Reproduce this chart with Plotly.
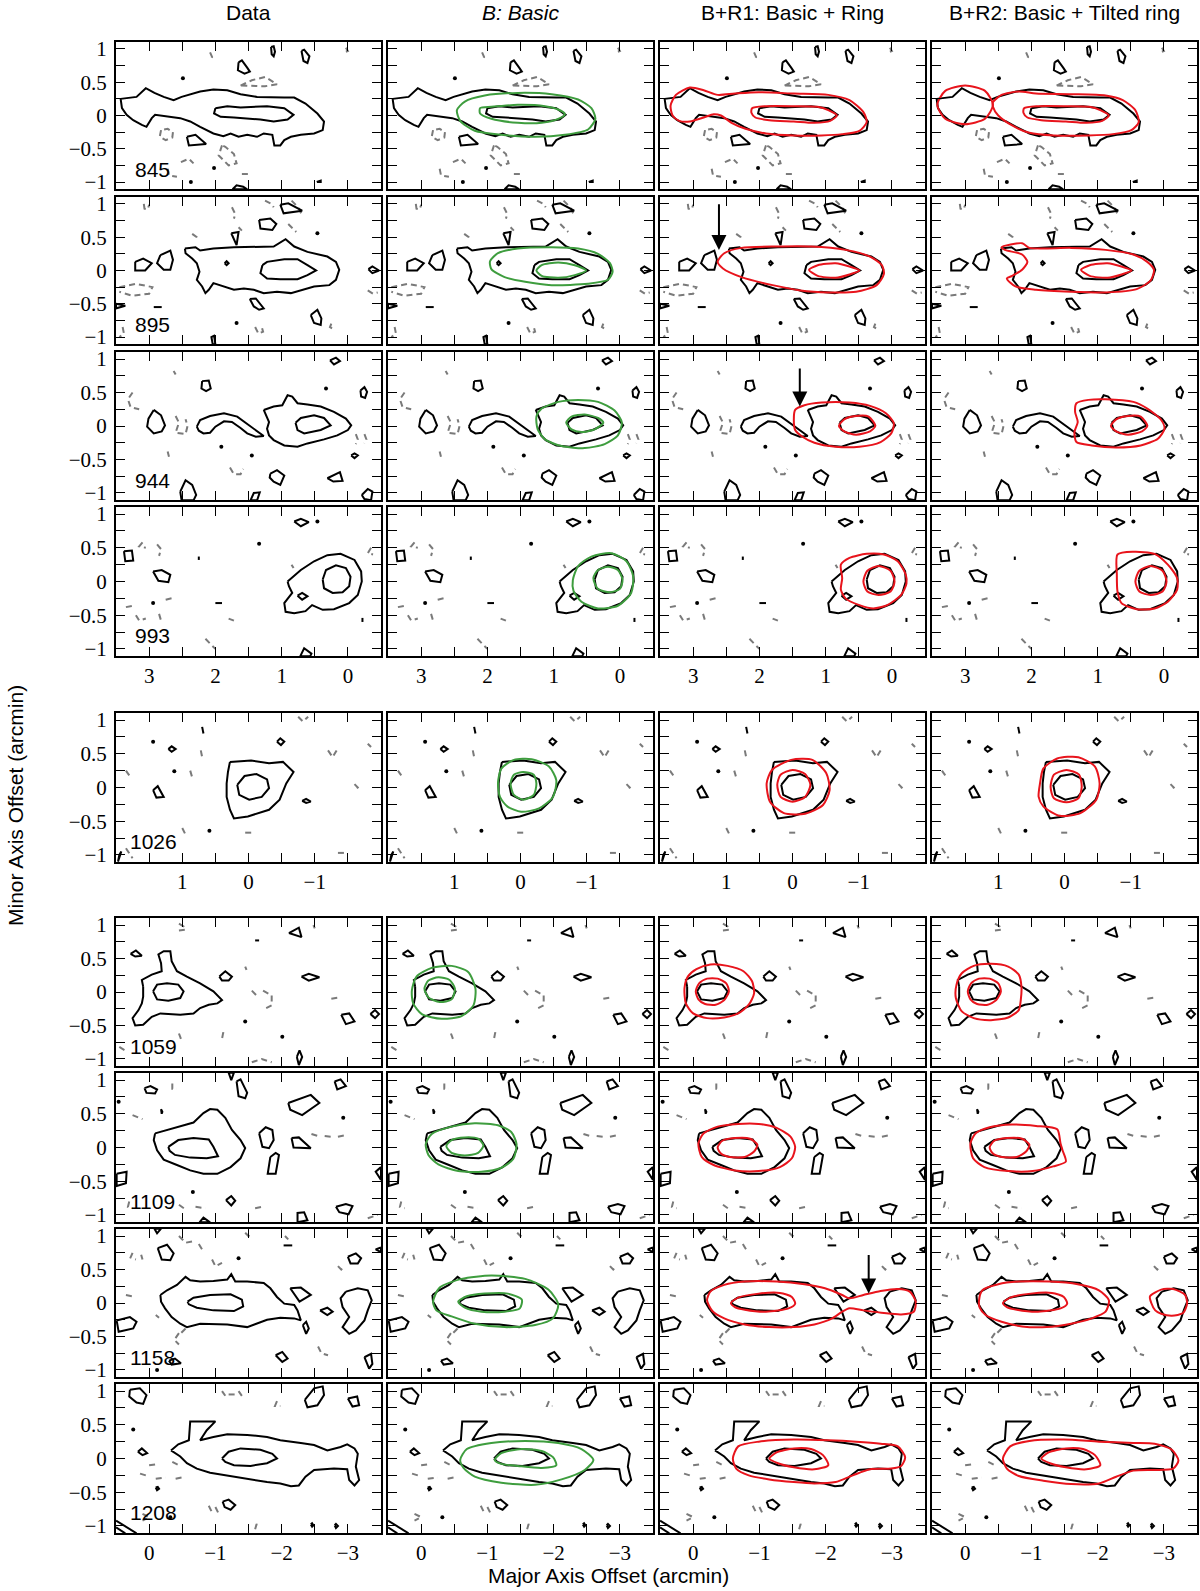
import plotly.graph_objects as go

# ------------------------------------------------------------------ DATA
CHANNELS = ["845", "895", "944", "993", "1026", "1059", "1109", "1158", "1208"]
COLUMN_TITLES = ["Data", "<i>B: Basic</i>", "B+R1: Basic + Ring", "B+R2: Basic + Tilted ring"]
X_TITLE = "Major Axis Offset (arcmin)"
Y_TITLE = "Minor Axis Offset (arcmin)"

# contour vertices in arcmin (major offset, minor offset)
DATA_845 = [
    [(3.43,0.25),(3.19,0.28),(3.05,0.41),(2.92,0.34),(2.78,0.28),(2.63,0.23),(2.51,0.28),(2.23,0.36),(2.03,0.39),(1.82,0.38),(1.62,0.32),(1.37,0.28),(0.96,0.27),(0.81,0.27),(0.64,0.18),(0.46,0.03),(0.36,-0.09),(0.38,-0.22),(0.51,-0.27),(0.71,-0.29),(0.86,-0.32),(0.96,-0.37),(1.02,-0.45),(1.11,-0.45),(1.14,-0.29),(1.27,-0.27),(1.37,-0.32),(1.52,-0.29),(1.65,-0.32),(1.77,-0.27),(1.88,-0.31),(2.03,-0.27),(2.23,-0.17),(2.38,-0.09),(2.53,-0.04),(2.66,-0.02),(2.91,0.01),(2.96,-0.04),(3.04,-0.17),(3.11,-0.14),(3.24,-0.07),(3.34,0.01),(3.41,0.11)],
    [(2.00,0.11),(1.82,0.14),(1.62,0.12),(1.42,0.13),(1.22,0.14),(0.96,0.11),(0.82,0.01),(0.91,-0.06),(1.12,-0.09),(1.32,-0.06),(1.52,-0.04),(1.72,-0.03),(1.92,-0.02),(2.02,0.03)],
    [(1.16,1.03),(1.12,1.04),(1.10,0.96),(1.12,0.89),(1.15,0.92)],
    [(0.70,0.97),(0.66,0.99),(0.58,0.89),(0.61,0.79),(0.67,0.82)],
    [(1.65,0.80),(1.60,0.83),(1.52,0.72),(1.48,0.66),(1.56,0.63),(1.66,0.68)],
    [(2.43,-0.32),(2.30,-0.29),(2.14,-0.43),(2.40,-0.45)],
    [(1.74,-1.11),(1.68,-1.05),(1.58,-1.07),(1.52,-1.11)],
    [(0.47,-1.0),(0.41,-1.0),(0.41,-0.98)],
]
NEG_845 = [
    [(2.08,0.95),(2.05,0.88),(2.08,0.82)],
    [(1.62,0.45),(1.45,0.53),(1.25,0.58),(1.07,0.47),(1.25,0.44),(1.45,0.45),(1.62,0.45)],
    [(2.82,-0.22),(2.84,-0.32),(2.75,-0.37),(2.65,-0.33),(2.64,-0.25),(2.72,-0.20),(2.82,-0.22)],
    [(1.90,-0.45),(1.95,-0.60),(1.80,-0.75),(1.68,-0.72),(1.72,-0.58),(1.85,-0.47),(1.90,-0.45)],
    [(2.52,-0.70),(2.40,-0.65),(2.33,-0.72)],
    [(2.72,-0.80),(2.70,-0.90),(2.58,-0.92)],
    [(1.60,-0.88),(1.45,-0.88)],
    [(0.03,1.02),(0.00,0.97),(0.05,0.95)],
]
DOTS_845 = [(2.49,0.56),(2.02,-0.79),(2.37,-1.0)]
GREEN_845 = [
    [(2.46,0.08),(2.34,0.21),(2.04,0.30),(1.54,0.34),(1.03,0.32),(0.63,0.24),(0.43,0.11),(0.37,-0.05),(0.48,-0.21),(0.83,-0.29),(1.28,-0.32),(1.79,-0.29),(2.19,-0.23),(2.41,-0.08)],
    [(2.11,0.11),(1.94,0.13),(1.54,0.16),(1.13,0.14),(0.93,0.09),(0.83,0.02),(0.93,-0.05),(1.18,-0.11),(1.54,-0.11),(1.94,-0.05),(2.11,0.03)],
]
R1_845 = [
    [(3.34,0.15),(3.26,0.31),(3.05,0.42),(2.84,0.38),(2.63,0.31),(2.37,0.33),(2.01,0.35),(1.48,0.33),(0.96,0.31),(0.64,0.23),(0.43,0.05),(0.38,-0.10),(0.49,-0.23),(0.75,-0.28),(1.06,-0.30),(1.48,-0.30),(1.90,-0.27),(2.21,-0.20),(2.42,-0.11),(2.58,0.0),(2.69,0.02),(2.84,-0.03),(3.05,-0.09),(3.21,-0.08),(3.31,0.0)],
    [(2.11,0.11),(1.90,0.14),(1.48,0.14),(1.12,0.13),(0.96,0.08),(0.83,0.0),(0.93,-0.08),(1.17,-0.11),(1.48,-0.09),(1.85,-0.07),(2.06,-0.03),(2.12,0.04)],
]
R2_845 = [
    [(3.42,0.16),(3.30,0.37),(3.00,0.45),(2.70,0.37),(2.58,0.16),(2.70,-0.05),(3.00,-0.13),(3.30,-0.05)],
    [(2.58,0.20),(2.45,0.31),(2.19,0.36),(1.93,0.33),(1.40,0.32),(0.88,0.30),(0.62,0.23),(0.43,0.08),(0.38,-0.10),(0.49,-0.22),(0.77,-0.28),(1.14,-0.30),(1.66,-0.30),(2.03,-0.26),(2.29,-0.15),(2.50,0.0),(2.58,0.13)],
    [(2.11,0.11),(1.90,0.14),(1.48,0.14),(1.12,0.13),(0.96,0.08),(0.83,0.0),(0.93,-0.08),(1.17,-0.11),(1.48,-0.09),(1.85,-0.07),(2.06,-0.03),(2.12,0.04)],
]

DATA_895 = [
    [(2.46,0.33),(2.30,0.35),(2.23,0.30),(2.03,0.33),(1.72,0.35),(1.42,0.36),(1.12,0.36),(0.94,0.47),(0.81,0.36),(0.61,0.28),(0.31,0.21),(0.18,0.13),(0.13,0.01),(0.18,-0.14),(0.28,-0.22),(0.51,-0.24),(0.71,-0.30),(0.86,-0.34),(1.07,-0.32),(1.27,-0.34),(1.42,-0.29),(1.57,-0.27),(1.72,-0.29),(1.87,-0.24),(2.03,-0.19),(2.10,-0.29),(2.15,-0.34),(2.20,-0.24),(2.28,-0.14),(2.24,-0.02),(2.28,0.11),(2.35,0.18),(2.45,0.26)],
    [(1.29,0.08),(1.22,0.13),(0.96,0.17),(0.76,0.17),(0.61,0.08),(0.48,0.0),(0.61,-0.07),(0.76,-0.13),(1.02,-0.13),(1.22,-0.12),(1.32,-0.04)],
    [(1.86,0.11),(1.83,0.14),(1.80,0.11),(1.83,0.08)],
    [(3.21,0.13),(3.09,0.18),(2.96,0.11),(3.06,0.0),(3.21,0.0)],
    [(2.83,0.23),(2.68,0.30),(2.64,0.16),(2.68,0.01),(2.78,0.01),(2.88,0.11)],
    [(1.34,0.76),(1.17,0.78),(1.08,0.70),(1.14,0.61),(1.32,0.63)],
    [(1.02,0.99),(0.90,1.01),(0.69,0.90),(0.97,0.86)],
    [(1.76,0.56),(1.65,0.58),(1.68,0.38)],
    [(1.48,-0.43),(1.39,-0.42),(1.27,-0.57),(1.34,-0.59),(1.42,-0.54)],
    [(0.56,-0.67),(0.46,-0.59),(0.40,-0.72),(0.41,-0.82),(0.51,-0.79)],
    [(-0.31,0.02),(-0.37,0.06),(-0.47,0.0),(-0.37,-0.04)],
    [(3.50,-0.50),(3.36,-0.53),(3.50,-0.57)],
    [(2.93,-0.55),(2.81,-0.55)],
    [(2.04,-1.11),(2.06,-1.0),(2.02,-0.98),(2.00,-1.11)],
]
NEG_895 = [
    [(3.08,1.00),(3.07,0.93),(3.02,0.92),(3.00,0.99)],
    [(2.35,0.55),(2.28,0.50),(2.25,0.45)],
    [(1.75,0.95),(1.70,0.85),(1.72,0.78)],
    [(1.65,0.65),(1.60,0.60)],
    [(1.25,1.05),(1.15,1.00),(1.12,0.95)],
    [(0.85,1.05),(0.75,0.95),(0.70,0.85)],
    [(0.90,0.70),(0.82,0.62),(0.78,0.58)],
    [(3.45,-0.25),(3.20,-0.20),(2.95,-0.25),(3.00,-0.35),(3.25,-0.38),(3.45,-0.32)],
    [(0.25,-0.80),(0.27,-0.85),(0.22,-0.88)],
    [(1.40,-0.85),(1.35,-0.95),(1.28,-0.92),(1.30,-0.85)],
    [(-0.30,-0.30),(-0.38,-0.35),(-0.45,-0.33)],
    [(3.40,-0.85),(3.38,-0.95),(3.45,-1.00)],
]
DOTS_895 = [(1.68,-0.79),(0.46,0.56)]
GREEN_895 = [
    [(1.96,0.14),(1.84,0.26),(1.54,0.33),(1.03,0.35),(0.63,0.33),(0.33,0.25),(0.15,0.11),(0.11,-0.02),(0.18,-0.14),(0.48,-0.20),(1.03,-0.22),(1.43,-0.17),(1.74,-0.10),(1.94,0.02)],
    [(1.26,0.0),(1.18,0.08),(0.93,0.12),(0.68,0.08),(0.51,0.0),(0.68,-0.07),(0.93,-0.11),(1.18,-0.08)],
]
R1_895 = [
    [(2.63,0.13),(2.53,0.26),(2.27,0.34),(1.74,0.36),(1.22,0.36),(0.70,0.31),(0.33,0.21),(0.15,0.08),(0.12,-0.05),(0.23,-0.22),(0.54,-0.32),(0.96,-0.33),(1.38,-0.30),(1.80,-0.22),(2.27,-0.10),(2.55,0.03)],
    [(1.25,0.01),(1.12,0.08),(0.85,0.11),(0.64,0.06),(0.49,0.0),(0.64,-0.06),(0.85,-0.11),(1.12,-0.08)],
]
R2_895 = [
    [(2.45,0.35),(2.14,0.41),(2.03,0.34),(1.40,0.34),(0.88,0.31),(0.46,0.24),(0.25,0.13),(0.15,0.01),(0.20,-0.15),(0.41,-0.28),(0.88,-0.33),(1.40,-0.32),(1.93,-0.29),(2.24,-0.24),(2.37,-0.12),(2.29,-0.08),(2.14,0.01),(2.06,0.13),(2.14,0.24),(2.40,0.31)],
    [(1.25,0.01),(1.12,0.08),(0.85,0.11),(0.64,0.06),(0.49,0.0),(0.64,-0.06),(0.85,-0.11),(1.12,-0.08)],
]

DATA_944 = [
    [(1.27,0.24),(1.12,0.29),(0.99,0.31),(0.91,0.46),(0.84,0.44),(0.76,0.34),(0.61,0.32),(0.41,0.29),(0.21,0.21),(0.03,0.11),(-0.05,0.01),(0.0,-0.06),(0.16,-0.14),(0.36,-0.20),(0.61,-0.26),(0.76,-0.31),(0.96,-0.29),(1.12,-0.21),(1.19,-0.14),(1.22,-0.04),(1.19,0.06),(1.24,0.16)],
    [(0.79,0.05),(0.71,0.12),(0.51,0.16),(0.36,0.12),(0.26,0.01),(0.41,-0.06),(0.66,-0.11),(0.76,-0.06)],
    [(2.28,-0.01),(2.23,0.09),(2.08,0.15),(1.87,0.19),(1.67,0.14),(1.47,-0.01),(1.32,-0.12),(1.27,-0.15),(1.39,-0.16),(1.52,-0.11),(1.62,-0.03),(1.75,0.06),(1.87,0.07),(2.00,-0.01),(2.08,-0.10),(2.18,-0.11),(2.25,-0.07)],
    [(2.93,0.24),(2.82,0.16),(2.76,0.01),(2.81,-0.08),(2.93,-0.11),(3.03,-0.01),(3.01,0.11)],
    [(2.20,0.67),(2.10,0.68),(2.07,0.56),(2.14,0.52),(2.21,0.56)],
    [(0.27,0.98),(0.18,1.02),(0.12,0.97),(0.21,0.92)],
    [(-0.19,0.53),(-0.25,0.58),(-0.29,0.51),(-0.26,0.42),(-0.20,0.44)],
    [(-0.05,-0.44),(-0.10,-0.41),(-0.15,-0.44),(-0.10,-0.48)],
    [(1.17,-0.71),(1.07,-0.66),(0.96,-0.74),(1.02,-0.88),(1.12,-0.83),(1.18,-0.77)],
    [(0.31,-0.78),(0.12,-0.69),(0.08,-0.82),(0.22,-0.83)],
    [(2.53,-0.98),(2.45,-0.81),(2.35,-0.88),(2.29,-1.03),(2.33,-1.11),(2.51,-1.11)],
    [(1.47,-1.11),(1.42,-1.00),(1.33,-0.99),(1.37,-1.11)],
    [(-0.21,-1.03),(-0.30,-0.94),(-0.37,-0.98),(-0.35,-1.11),(-0.25,-1.09)],
]
NEG_944 = [
    [(3.25,0.50),(3.32,0.40),(3.28,0.28),(3.15,0.25)],
    [(2.60,0.15),(2.55,0.05),(2.60,-0.10),(2.45,-0.12),(2.42,0.0),(2.45,0.10)],
    [(2.63,0.82),(2.60,0.77)],
    [(2.72,-0.38),(2.70,-0.46)],
    [(1.78,-0.62),(1.72,-0.72),(1.62,-0.72),(1.58,-0.64)],
    [(-0.12,-0.12),(-0.15,-0.20),(-0.12,-0.27)],
    [(-0.25,-0.12),(-0.28,-0.20),(-0.25,-0.26)],
]
DOTS_944 = [(1.91,-0.31),(1.45,-0.44),(0.33,0.56)]
GREEN_944 = [
    [(1.26,0.14),(1.18,0.26),(0.93,0.36),(0.63,0.39),(0.33,0.36),(0.08,0.23),(-0.03,0.05),(0.03,-0.14),(0.23,-0.27),(0.53,-0.33),(0.88,-0.30),(1.13,-0.20),(1.24,-0.05)],
    [(0.81,0.05),(0.73,0.14),(0.53,0.17),(0.33,0.12),(0.25,0.05),(0.38,-0.05),(0.58,-0.09),(0.73,-0.05)],
]
R1_944 = [
    [(1.46,0.24),(1.32,0.31),(1.06,0.35),(0.64,0.35),(0.33,0.30),(0.09,0.19),(-0.03,0.04),(0.01,-0.11),(0.17,-0.24),(0.49,-0.31),(0.85,-0.31),(1.17,-0.25),(1.35,-0.16),(1.46,-0.06),(1.48,0.09)],
    [(0.80,0.0),(0.72,0.10),(0.54,0.15),(0.35,0.14),(0.25,0.0),(0.33,-0.08),(0.54,-0.13),(0.72,-0.08)],
]
R2_944 = [
    [(1.32,0.34),(1.14,0.39),(0.88,0.40),(0.46,0.36),(0.25,0.26),(0.04,0.09),(-0.01,-0.04),(0.09,-0.19),(0.35,-0.29),(0.72,-0.32),(1.09,-0.29),(1.32,-0.24),(1.35,-0.09),(1.30,0.06),(1.34,0.21)],
    [(0.80,0.0),(0.72,0.10),(0.54,0.15),(0.35,0.14),(0.25,0.0),(0.33,-0.08),(0.54,-0.13),(0.72,-0.08)],
]

DATA_993 = [
    [(0.91,0.0),(0.71,0.17),(0.51,0.30),(0.31,0.39),(0.11,0.41),(-0.10,0.32),(-0.20,0.15),(-0.21,0.0),(-0.15,-0.20),(-0.02,-0.32),(0.21,-0.41),(0.38,-0.42),(0.54,-0.35),(0.64,-0.44),(0.81,-0.47),(0.94,-0.45),(0.96,-0.32),(0.91,-0.25),(0.84,-0.17),(0.89,-0.07)],
    [(0.38,0.03),(0.33,0.17),(0.18,0.24),(0.03,0.20),(-0.04,0.07),(-0.02,-0.07),(0.08,-0.16),(0.23,-0.17),(0.36,-0.10)],
    [(0.76,-0.21),(0.69,-0.17),(0.61,-0.22),(0.69,-0.27)],
    [(3.38,0.45),(3.26,0.46),(3.24,0.31),(3.36,0.30)],
    [(2.94,0.15),(2.81,0.17),(2.68,0.10),(2.71,-0.01),(2.86,0.01)],
    [(0.81,0.89),(0.71,0.93),(0.59,0.88),(0.71,0.82)],
    [(0.72,-1.11),(0.66,-0.99),(0.55,-1.07),(0.57,-1.11)],
    [(2.00,-0.32),(1.90,-0.32)],
    [(2.25,0.37),(2.25,0.32)],
    [(-0.22,-0.54),(-0.22,-0.60)],
]
NEG_993 = [
    [(3.10,0.58),(3.15,0.52),(3.05,0.50)],
    [(2.88,0.55),(2.82,0.48),(2.85,0.38)],
    [(2.75,-0.27),(2.62,-0.24)],
    [(3.35,-0.38),(3.25,-0.36)],
    [(3.20,-0.50),(3.15,-0.58),(3.05,-0.55)],
    [(2.85,-0.48),(2.82,-0.58)],
    [(2.15,-0.85),(2.05,-0.95),(2.00,-1.00)],
    [(1.80,-0.55),(1.72,-0.58)],
    [(0.85,0.25),(0.82,0.20)],
    [(-0.35,0.50),(-0.30,0.42),(-0.38,0.40)],
]
DOTS_993 = [(2.94,-0.32),(1.34,0.56),(0.46,0.89)]
GREEN_993 = [
    [(0.71,0.02),(0.63,0.23),(0.43,0.37),(0.13,0.42),(-0.10,0.30),(-0.20,0.08),(-0.17,-0.17),(0.03,-0.36),(0.33,-0.40),(0.58,-0.30),(0.70,-0.14)],
    [(0.40,0.05),(0.33,0.17),(0.18,0.22),(0.03,0.17),(-0.04,0.03),(0.0,-0.11),(0.15,-0.16),(0.33,-0.11)],
]
R1_993 = [
    [(0.77,0.25),(0.64,0.35),(0.38,0.41),(0.12,0.40),(-0.09,0.30),(-0.21,0.10),(-0.22,-0.03),(-0.14,-0.20),(0.07,-0.35),(0.28,-0.40),(0.49,-0.35),(0.70,-0.25),(0.77,-0.12),(0.75,0.05)],
    [(0.43,0.0),(0.37,0.16),(0.20,0.23),(0.02,0.16),(-0.04,0.0),(0.02,-0.15),(0.20,-0.20),(0.37,-0.15)],
]
R2_993 = [
    [(0.70,0.40),(0.46,0.44),(0.14,0.41),(-0.06,0.25),(-0.20,0.05),(-0.20,-0.12),(-0.06,-0.30),(0.14,-0.40),(0.41,-0.41),(0.64,-0.32),(0.70,-0.15),(0.71,0.10)],
    [(0.43,0.0),(0.37,0.16),(0.20,0.23),(0.02,0.16),(-0.04,0.0),(0.02,-0.15),(0.20,-0.20),(0.37,-0.15)],
]

DATA_1026 = [
    [(0.28,0.38),(-0.04,0.40),(-0.31,0.36),(-0.52,0.38),(-0.68,0.23),(-0.57,0.06),(-0.47,-0.18),(-0.31,-0.33),(0.01,-0.43),(0.22,-0.46),(0.28,-0.33),(0.33,-0.14),(0.33,0.06),(0.31,0.23)],
    [(0.17,0.04),(0.06,0.17),(-0.12,0.20),(-0.28,0.12),(-0.31,-0.01),(-0.20,-0.14),(-0.01,-0.18),(0.14,-0.11)],
    [(1.44,-0.04),(1.37,0.02),(1.28,-0.14),(1.39,-0.15)],
    [(1.21,0.57),(1.16,0.61),(1.10,0.57),(1.16,0.53)],
    [(-0.43,0.68),(-0.48,0.73),(-0.54,0.68),(-0.49,0.63)],
    [(0.70,0.90),(0.68,0.80)],
    [(-0.81,-0.20),(-0.87,-0.17),(-0.94,-0.21),(-0.87,-0.23)],
    [(1.97,-1.10),(1.95,-1.00),(1.92,-0.95)],
]
NEG_1026 = [
    [(-1.20,0.55),(-1.27,0.45),(-1.33,0.55)],
    [(-0.75,1.05),(-0.82,0.98),(-0.90,1.05)],
    [(-1.60,0.05),(-1.65,0.0),(-1.60,-0.05)],
    [(-1.80,0.65),(-1.85,0.60)],
    [(1.85,0.25),(1.80,0.18)],
    [(0.88,0.25),(0.85,0.15)],
    [(0.72,0.55),(0.70,0.45)],
    [(1.00,-0.60),(0.95,-0.70)],
    [(0.05,-0.67),(-0.05,-0.67)],
    [(-1.35,-0.97),(-1.50,-0.97)],
    [(1.85,-0.90),(1.78,-1.00),(1.75,-1.05)],
]
DOTS_1026 = [(1.44,0.68),(1.12,0.24),(0.59,-0.64)]
GREEN_1026 = [
    [(0.29,0.28),(0.10,0.41),(-0.17,0.42),(-0.43,0.31),(-0.54,0.11),(-0.49,-0.14),(-0.28,-0.31),(-0.01,-0.36),(0.20,-0.28),(0.31,-0.14),(0.34,0.06)],
    [(0.15,0.06),(0.10,0.19),(-0.04,0.23),(-0.20,0.19),(-0.24,0.06),(-0.20,-0.11),(-0.04,-0.18),(0.10,-0.11)],
]
R1_1026 = [
    [(0.39,0.06),(0.31,0.26),(0.02,0.41),(-0.30,0.41),(-0.51,0.21),(-0.56,-0.04),(-0.46,-0.26),(-0.19,-0.39),(0.13,-0.38),(0.34,-0.21)],
    [(0.23,0.04),(0.18,0.19),(0.0,0.26),(-0.19,0.20),(-0.27,0.04),(-0.19,-0.14),(0.0,-0.21),(0.18,-0.14)],
]
R2_1026 = [
    [(0.37,0.06),(0.32,0.28),(0.11,0.43),(-0.21,0.45),(-0.46,0.31),(-0.53,0.06),(-0.48,-0.18),(-0.24,-0.38),(0.07,-0.42),(0.32,-0.28),(0.39,-0.14)],
    [(0.21,0.01),(0.16,0.19),(-0.03,0.26),(-0.22,0.19),(-0.26,0.01),(-0.21,-0.16),(-0.03,-0.22),(0.16,-0.16)],
]

DATA_1059 = [
    [(0.09,0.08),(0.11,0.18),(-0.04,0.26),(-0.19,0.31),(-0.18,0.43),(-0.14,0.56),(-0.22,0.61),(-0.32,0.61),(-0.34,0.46),(-0.42,0.31),(-0.57,0.23),(-0.77,0.13),(-0.97,0.01),(-1.10,-0.12),(-1.03,-0.17),(-0.90,-0.19),(-0.77,-0.24),(-0.67,-0.32),(-0.47,-0.34),(-0.17,-0.32),(-0.04,-0.37),(0.09,-0.49),(0.21,-0.50),(0.25,-0.39),(0.16,-0.27),(0.11,-0.17),(0.09,-0.07)],
    [(-0.06,0.01),(-0.12,0.11),(-0.27,0.13),(-0.44,0.11),(-0.52,0.01),(-0.47,-0.09),(-0.29,-0.13),(-0.12,-0.11)],
    [(0.28,0.57),(0.20,0.62),(0.11,0.54),(0.21,0.53)],
    [(-1.06,0.23),(-1.15,0.31),(-1.25,0.23),(-1.20,0.17),(-1.10,0.17)],
    [(-2.11,0.88),(-2.26,0.96),(-2.30,0.82)],
    [(-2.30,0.23),(-2.41,0.27),(-2.57,0.22),(-2.41,0.17)],
    [(-2.90,-0.34),(-3.02,-0.32),(-3.10,-0.44),(-2.97,-0.48)],
    [(-3.34,-0.33),(-3.41,-0.27),(-3.47,-0.33),(-3.41,-0.39)],
    [(-2.23,-0.97),(-2.27,-0.87),(-2.31,-0.97),(-2.26,-1.09)],
    [(-1.60,0.77),(-1.66,0.77)],
]
NEG_1059 = [
    [(-0.45,1.02),(-0.52,0.98),(-0.55,0.93),(-0.45,0.92)],
    [(-1.72,0.02),(-1.85,-0.05),(-1.85,-0.20),(-1.75,-0.25)],
    [(-1.55,0.02),(-1.62,-0.05)],
    [(-2.75,-0.10),(-2.87,-0.08)],
    [(-2.48,1.00),(-2.50,0.95)],
    [(-1.12,-0.60),(-1.10,-0.70)],
    [(-0.45,-0.62),(-0.48,-0.70)],
    [(0.45,-0.82),(0.35,-0.88)],
    [(-1.55,-1.05),(-1.70,-1.00),(-1.85,-1.05)],
    [(-1.45,0.38),(-1.47,0.33)],
]
DOTS_1059 = [(-1.45,-0.44),(-2.01,-0.67)]
GREEN_1059 = [
    [(0.14,0.02),(0.07,0.23),(-0.16,0.36),(-0.46,0.39),(-0.71,0.30),(-0.82,0.05),(-0.79,-0.20),(-0.61,-0.36),(-0.31,-0.40),(-0.01,-0.33),(0.12,-0.17)],
    [(-0.05,0.05),(-0.11,0.17),(-0.26,0.22),(-0.43,0.18),(-0.51,0.05),(-0.46,-0.11),(-0.28,-0.15),(-0.11,-0.08)],
]
R1_1059 = [
    [(0.13,0.06),(0.08,0.23),(-0.05,0.34),(-0.26,0.41),(-0.52,0.39),(-0.76,0.31),(-0.89,0.16),(-0.92,-0.02),(-0.84,-0.19),(-0.68,-0.32),(-0.47,-0.38),(-0.21,-0.39),(0.0,-0.32),(0.11,-0.17)],
    [(-0.04,0.01),(-0.09,0.13),(-0.21,0.20),(-0.37,0.20),(-0.50,0.13),(-0.54,0.01),(-0.47,-0.12),(-0.34,-0.19),(-0.18,-0.18),(-0.08,-0.11)],
]
R2_1059 = [
    [(0.13,0.11),(0.05,0.28),(-0.13,0.39),(-0.39,0.42),(-0.65,0.38),(-0.81,0.26),(-0.85,0.08),(-0.84,-0.12),(-0.81,-0.27),(-0.65,-0.38),(-0.39,-0.42),(-0.13,-0.39),(0.05,-0.29),(0.14,-0.09)],
    [(-0.04,0.01),(-0.09,0.13),(-0.21,0.20),(-0.37,0.20),(-0.50,0.13),(-0.54,0.01),(-0.47,-0.12),(-0.34,-0.19),(-0.18,-0.18),(-0.08,-0.11)],
]

DATA_1109 = [
    [(-0.09,0.21),(-0.27,0.26),(-0.47,0.31),(-0.67,0.37),(-0.82,0.51),(-0.92,0.57),(-1.03,0.56),(-1.15,0.44),(-1.25,0.26),(-1.38,0.11),(-1.45,-0.01),(-1.38,-0.16),(-1.23,-0.29),(-1.03,-0.39),(-0.82,-0.39),(-0.62,-0.34),(-0.42,-0.26),(-0.22,-0.18),(-0.12,-0.04),(-0.07,0.11)],
    [(-0.29,0.01),(-0.44,0.11),(-0.67,0.14),(-0.90,0.12),(-0.97,0.01),(-1.04,-0.13),(-0.87,-0.16),(-0.62,-0.15),(-0.39,-0.11),(-0.31,-0.05)],
    [(0.07,0.88),(-0.02,0.91),(-0.12,0.86),(-0.09,0.80),(0.04,0.81)],
    [(-1.32,0.98),(-1.38,1.01),(-1.48,0.81),(-1.45,0.73),(-1.35,0.76)],
    [(-2.10,0.66),(-2.44,0.78),(-2.57,0.66),(-2.31,0.48),(-2.13,0.56)],
    [(-1.66,0.21),(-1.76,0.30),(-1.86,0.26),(-1.88,0.11),(-1.81,-0.01),(-1.71,0.01)],
    [(-2.15,0.14),(-2.26,0.15),(-2.44,-0.01),(-2.18,0.0)],
    [(-1.83,-0.14),(-1.91,-0.08),(-1.96,-0.11),(-1.91,-0.39),(-1.79,-0.39)],
    [(-2.80,0.98),(-2.89,1.01),(-2.97,0.91),(-2.84,0.86)],
    [(-1.16,-0.78),(-1.24,-0.72),(-1.30,-0.79),(-1.24,-0.86)],
    [(-2.82,-0.88),(-2.97,-0.84),(-3.07,-0.87),(-3.01,-0.99),(-2.87,-0.96)],
    [(-2.24,-1.11),(-2.24,-0.97),(-2.34,-0.96),(-2.39,-1.08)],
    [(-0.76,-1.11),(-0.82,-1.04),(-0.92,-1.11)],
    [(-1.20,1.11),(-1.24,1.00),(-1.28,1.11)],
    [(0.49,-0.39),(0.34,-0.36),(0.35,-0.53),(0.49,-0.57)],
    [(-3.50,-0.29),(-3.42,-0.36),(-3.50,-0.48)],
    [(-0.18,0.57),(-0.20,0.53),(-0.19,0.50)],
]
NEG_1109 = [
    [(-0.35,0.95),(-0.35,0.87),(-0.42,0.87)],
    [(0.25,0.48),(0.18,0.45),(0.10,0.42)],
    [(-2.45,0.20),(-2.55,0.17)],
    [(-2.65,0.17),(-2.75,0.16)],
    [(-2.85,0.16),(-2.95,0.18)],
    [(0.30,-0.80),(0.32,-0.88),(0.25,-0.90)],
    [(-0.45,-0.85),(-0.55,-0.92)],
    [(-0.70,-0.88),(-0.85,-0.90)],
    [(-1.60,-0.90),(-1.70,-0.88)],
    [(-3.30,-1.05),(-3.45,-1.00)],
]
DOTS_1109 = [(-0.66,-0.66),(0.46,0.68),(-2.93,0.44)]
GREEN_1109 = [
    [(-0.07,0.05),(-0.16,0.20),(-0.46,0.31),(-0.81,0.36),(-1.16,0.33),(-1.36,0.23),(-1.44,0.05),(-1.39,-0.17),(-1.21,-0.30),(-0.91,-0.36),(-0.56,-0.35),(-0.26,-0.25),(-0.11,-0.11)],
    [(-0.38,0.02),(-0.46,0.11),(-0.66,0.15),(-0.86,0.13),(-0.94,0.03),(-0.86,-0.08),(-0.66,-0.12),(-0.46,-0.08)],
]
R1_1109 = [
    [(-0.08,0.06),(-0.16,0.21),(-0.37,0.31),(-0.68,0.35),(-0.99,0.35),(-1.26,0.29),(-1.47,0.16),(-1.54,0.01),(-1.49,-0.16),(-1.31,-0.29),(-0.99,-0.35),(-0.63,-0.34),(-0.31,-0.26),(-0.13,-0.14)],
    [(-0.37,0.0),(-0.44,0.10),(-0.63,0.14),(-0.86,0.13),(-0.97,0.04),(-0.92,-0.06),(-0.78,-0.14),(-0.55,-0.14),(-0.42,-0.09)],
]
R2_1109 = [
    [(-0.08,0.06),(-0.16,0.21),(-0.37,0.30),(-0.71,0.34),(-1.07,0.32),(-1.39,0.27),(-1.44,0.06),(-1.47,-0.04),(-1.52,-0.21),(-1.33,-0.28),(-1.02,-0.35),(-0.65,-0.35),(-0.29,-0.29),(-0.12,-0.16)],
    [(-0.37,0.0),(-0.44,0.10),(-0.63,0.14),(-0.86,0.13),(-0.97,0.04),(-0.92,-0.06),(-0.78,-0.14),(-0.55,-0.14),(-0.42,-0.09)],
]

DATA_1158 = [
    [(-0.17,0.12),(-0.27,0.19),(-0.42,0.27),(-0.55,0.39),(-0.62,0.34),(-0.77,0.32),(-0.97,0.33),(-1.18,0.35),(-1.24,0.43),(-1.30,0.32),(-1.48,0.32),(-1.73,0.30),(-1.83,0.22),(-1.93,0.09),(-2.04,-0.01),(-2.19,-0.03),(-2.24,-0.11),(-2.29,-0.26),(-2.19,-0.23),(-1.98,-0.22),(-1.78,-0.25),(-1.48,-0.36),(-1.18,-0.32),(-0.77,-0.31),(-0.57,-0.36),(-0.47,-0.31),(-0.34,-0.21),(-0.24,-0.08),(-0.18,0.02)],
    [(-0.58,0.02),(-0.67,0.08),(-0.92,0.12),(-1.23,0.13),(-1.40,0.05),(-1.42,-0.05),(-1.28,-0.12),(-0.97,-0.11),(-0.72,-0.07),(-0.60,-0.02)],
    [(-2.97,0.17),(-3.15,0.22),(-3.30,0.19),(-3.36,0.04),(-3.30,-0.11),(-3.25,-0.26),(-3.12,-0.41),(-3.02,-0.46),(-2.92,-0.36),(-3.02,-0.21),(-2.92,-0.06),(-2.89,0.07)],
    [(-2.13,0.22),(-2.29,0.23),(-2.44,0.12),(-2.27,0.02)],
    [(-2.58,-0.11),(-2.69,-0.07),(-2.77,-0.13),(-2.69,-0.18)],
    [(-2.32,-0.33),(-2.37,-0.28),(-2.41,-0.38),(-2.37,-0.46)],
    [(-0.13,0.82),(-0.27,0.87),(-0.37,0.74),(-0.32,0.64),(-0.19,0.65)],
    [(-3.00,0.69),(-3.12,0.74),(-3.20,0.67),(-3.15,0.59),(-3.04,0.59)],
    [(0.49,-0.26),(0.29,-0.21),(0.19,-0.28),(0.24,-0.38),(0.46,-0.43)],
    [(-1.91,-0.78),(-2.01,-0.73),(-2.09,-0.83),(-2.01,-0.88)],
    [(-3.25,-0.81),(-3.35,-0.76),(-3.37,-0.91),(-3.32,-0.98)],
    [(-0.30,-0.86),(-0.39,-0.83),(-0.48,-0.90),(-0.34,-0.92)],
    [(-2.03,0.86),(-2.16,0.86)],
    [(-3.50,0.83),(-3.42,0.80),(-3.50,0.76)],
    [(-0.08,1.11),(-0.12,1.04),(-0.18,1.11)],
]
NEG_1158 = [
    [(0.25,0.75),(0.28,0.68),(0.20,0.65)],
    [(0.12,0.72),(0.10,0.65)],
    [(-0.45,1.00),(-0.55,0.90),(-0.65,0.92)],
    [(-0.75,0.88),(-0.80,0.80)],
    [(-0.95,0.65),(-1.00,0.55),(-1.10,0.60)],
    [(-1.45,1.05),(-1.50,1.00),(-1.55,1.05)],
    [(-2.05,1.00),(-2.10,0.95)],
    [(-2.85,0.55),(-2.90,0.50),(-2.95,0.55)],
    [(0.35,0.12),(0.25,0.10)],
    [(-0.10,-0.18),(-0.15,-0.22)],
    [(-0.45,-0.45),(-0.38,-0.55),(-0.45,-0.62)],
    [(-0.55,-0.38),(-0.48,-0.45)],
    [(-2.55,-0.65),(-2.60,-0.75),(-2.70,-0.78)],
]
DOTS_1158 = [(-1.35,0.67),(-0.12,-1.0)]
GREEN_1158 = [
    [(-0.18,0.02),(-0.28,0.23),(-0.61,0.36),(-1.06,0.41),(-1.57,0.36),(-1.92,0.20),(-2.07,-0.02),(-1.99,-0.23),(-1.72,-0.33),(-1.26,-0.36),(-0.81,-0.31),(-0.46,-0.20),(-0.23,-0.11)],
    [(-0.56,0.02),(-0.69,0.10),(-0.96,0.14),(-1.31,0.14),(-1.52,0.05),(-1.49,-0.08),(-1.26,-0.13),(-0.91,-0.13),(-0.66,-0.07)],
]
R1_1158 = [
    [(-0.21,0.04),(-0.26,0.17),(-0.47,0.27),(-0.78,0.32),(-1.26,0.32),(-1.68,0.28),(-1.99,0.22),(-2.25,0.12),(-2.36,0.07),(-2.57,0.12),(-2.83,0.18),(-3.09,0.21),(-3.27,0.17),(-3.36,0.02),(-3.33,-0.13),(-3.14,-0.17),(-2.88,-0.15),(-2.57,-0.11),(-2.36,-0.08),(-2.25,-0.13),(-2.10,-0.23),(-1.83,-0.32),(-1.52,-0.36),(-1.15,-0.36),(-0.78,-0.32),(-0.47,-0.23),(-0.29,-0.12)],
    [(-0.57,0.0),(-0.68,0.08),(-0.99,0.14),(-1.31,0.15),(-1.49,0.09),(-1.54,-0.01),(-1.44,-0.08),(-1.10,-0.13),(-0.78,-0.10),(-0.63,-0.06)],
]
R2_1158 = [
    [(-0.21,0.04),(-0.26,0.19),(-0.50,0.28),(-0.81,0.32),(-1.28,0.32),(-1.70,0.28),(-2.02,0.19),(-2.17,0.04),(-2.12,-0.13),(-1.91,-0.23),(-1.60,-0.31),(-1.23,-0.36),(-0.86,-0.35),(-0.55,-0.28),(-0.31,-0.18),(-0.22,-0.07)],
    [(-2.79,0.10),(-2.96,0.20),(-3.14,0.21),(-3.32,0.12),(-3.35,-0.01),(-3.29,-0.15),(-3.12,-0.19),(-2.96,-0.16),(-2.87,-0.11),(-2.81,0.0)],
    [(-0.57,0.0),(-0.68,0.08),(-0.99,0.14),(-1.31,0.15),(-1.49,0.09),(-1.54,-0.01),(-1.44,-0.08),(-1.10,-0.13),(-0.78,-0.10),(-0.63,-0.06)],
]

DATA_1208 = [
    [(-0.33,0.12),(-0.44,0.21),(-0.60,0.27),(-0.62,0.45),(-0.62,0.55),(-1.00,0.55),(-0.87,0.42),(-0.77,0.27),(-0.97,0.32),(-1.18,0.36),(-1.48,0.35),(-1.78,0.32),(-1.98,0.27),(-2.29,0.23),(-2.49,0.20),(-2.69,0.12),(-2.89,0.17),(-2.99,0.21),(-3.10,0.15),(-3.15,0.07),(-3.12,-0.12),(-3.17,-0.32),(-3.10,-0.40),(-3.02,-0.32),(-2.99,-0.16),(-2.79,-0.15),(-2.49,-0.17),(-2.36,-0.27),(-2.26,-0.40),(-2.14,-0.41),(-1.98,-0.37),(-1.78,-0.35),(-1.58,-0.32),(-1.28,-0.27),(-0.92,-0.21),(-0.72,-0.15),(-0.57,-0.07),(-0.47,0.03)],
    [(-1.10,0.0),(-1.20,0.10),(-1.38,0.15),(-1.68,0.13),(-1.86,0.07),(-1.93,0.0),(-1.78,-0.07),(-1.53,-0.11),(-1.28,-0.10),(-1.15,-0.05)],
    [(0.29,1.02),(0.14,1.04),(0.04,0.94),(0.09,0.81),(0.19,0.83),(0.30,0.92)],
    [(-2.35,0.87),(-2.49,1.04),(-2.62,1.07),(-2.64,0.94),(-2.54,0.79),(-2.39,0.76)],
    [(-3.00,0.89),(-3.14,0.92),(-3.17,0.79),(-3.07,0.77)],
    [(0.17,0.10),(0.11,0.15),(0.03,0.08),(0.10,0.05)],
    [(-1.11,-0.64),(-1.20,-0.61),(-1.30,-0.69),(-1.23,-0.76),(-1.14,-0.72)],
    [(0.50,-0.92),(0.19,-1.11)],
    [(0.50,-1.02),(0.36,-1.11)],
    [(-2.44,-0.98),(-2.46,-0.96),(-2.48,-0.99),(-2.46,-1.01)],
    [(-2.80,-0.99),(-2.82,-0.97),(-2.85,-1.00),(-2.82,-1.03)],
    [(-0.10,-0.43),(-0.13,-0.42),(-0.15,-0.45),(-0.12,-0.47)],
]
NEG_1208 = [
    [(0.00,-0.10),(-0.15,-0.08)],
    [(0.05,-0.25),(0.15,-0.22)],
    [(-0.10,-0.30),(-0.25,-0.28)],
    [(-0.35,-0.05),(-0.45,-0.10)],
    [(-0.40,-0.30),(-0.50,-0.28)],
    [(-0.90,-0.70),(-0.95,-0.80)],
    [(-1.00,-0.72),(-1.05,-0.82)],
    [(-1.10,1.00),(-1.15,0.93)],
    [(-1.20,0.95),(-1.30,0.95)],
    [(-1.35,1.00),(-1.40,0.93)],
    [(-1.93,0.85),(-1.90,0.78),(-1.98,0.78)],
    [(-1.60,-1.05),(-1.62,-0.98),(-1.68,-0.97)],
    [(0.10,-0.82),(0.00,-0.87),(0.10,-0.92)],
]
DOTS_1208 = [(0.24,0.43),(-0.32,-0.87)]
GREEN_1208 = [
    [(-0.59,-0.02),(-0.69,0.14),(-1.06,0.23),(-1.57,0.26),(-2.07,0.23),(-2.42,0.14),(-2.60,-0.02),(-2.47,-0.17),(-2.12,-0.31),(-1.72,-0.39),(-1.21,-0.36),(-0.81,-0.27),(-0.64,-0.14)],
    [(-1.11,-0.02),(-1.21,0.08),(-1.52,0.14),(-1.82,0.11),(-1.99,0.02),(-2.04,-0.10),(-1.82,-0.14),(-1.46,-0.11),(-1.21,-0.08)],
]
R1_1208 = [
    [(-0.60,0.0),(-0.68,0.18),(-0.99,0.25),(-1.52,0.28),(-2.04,0.27),(-2.46,0.25),(-2.83,0.22),(-3.09,0.18),(-3.20,0.02),(-3.14,-0.11),(-2.99,-0.15),(-2.67,-0.16),(-2.41,-0.25),(-2.15,-0.35),(-1.83,-0.37),(-1.52,-0.35),(-1.15,-0.31),(-0.84,-0.25),(-0.65,-0.15)],
    [(-1.15,0.0),(-1.26,0.09),(-1.52,0.15),(-1.78,0.14),(-1.96,0.05),(-2.04,-0.10),(-1.83,-0.16),(-1.52,-0.13),(-1.28,-0.07)],
]
R2_1208 = [
    [(-0.57,0.0),(-0.68,0.18),(-0.97,0.26),(-1.49,0.28),(-2.02,0.25),(-2.54,0.23),(-2.86,0.22),(-3.12,0.13),(-3.22,-0.03),(-3.14,-0.15),(-2.86,-0.17),(-2.54,-0.18),(-2.28,-0.27),(-2.02,-0.37),(-1.60,-0.38),(-1.18,-0.33),(-0.81,-0.26),(-0.63,-0.15)],
    [(-1.15,0.0),(-1.26,0.09),(-1.52,0.15),(-1.78,0.14),(-1.96,0.05),(-2.04,-0.10),(-1.83,-0.16),(-1.52,-0.13),(-1.28,-0.07)],
]

# arrows in the B+R1 column: (row index, x, tip y, tail y)
ARROWS = [(1, 2.61, 0.31, 1.02), (2, 1.39, 0.29, 0.88), (7, -2.65, 0.14, 0.74)]

# ------------------------------------------------------------------ TABLE
DATA = [DATA_845, DATA_895, DATA_944, DATA_993, DATA_1026, DATA_1059, DATA_1109, DATA_1158, DATA_1208]
NEG = [NEG_845, NEG_895, NEG_944, NEG_993, NEG_1026, NEG_1059, NEG_1109, NEG_1158, NEG_1208]
DOTS = [DOTS_845, DOTS_895, DOTS_944, DOTS_993, DOTS_1026, DOTS_1059, DOTS_1109, DOTS_1158, DOTS_1208]
GREEN = [GREEN_845, GREEN_895, GREEN_944, GREEN_993, GREEN_1026, GREEN_1059, GREEN_1109, GREEN_1158, GREEN_1208]
R1 = [R1_845, R1_895, R1_944, R1_993, R1_1026, R1_1059, R1_1109, R1_1158, R1_1208]
R2 = [R2_845, R2_895, R2_944, R2_993, R2_1026, R2_1059, R2_1109, R2_1158, R2_1208]

# ------------------------------------------------------------------ LAYOUT
W, H = 1200, 1591
COL_PX = [(116, 381), (388, 653), (660, 925), (932, 1197)]
ROW_PX = [(42, 189), (197, 344), (352, 500), (507, 656), (713, 862),
          (918, 1066), (1073, 1222), (1229, 1377), (1384, 1533)]
ROW_GROUP = [0, 0, 0, 0, 1, 2, 2, 2, 2]
X_RANGES = [[3.5, -0.5], [2.0, -2.0], [0.5, -3.5]]
X_LABELED = {0: [0, 1, 2, 3], 1: [-1, 0, 1], 2: [0, -1, -2, -3]}
LABEL_ROWS = {3, 4, 8}

SERIF = "Liberation Serif, Times New Roman, serif"
SANS = "Liberation Sans, Arial, Helvetica, sans-serif"
BLACK = "#000000"
GRAY = "#7a7a7a"
GREEN_C = "#3e9d3e"
RED_C = "#e8141c"


def fmt(v):
    s = ("%g" % v)
    return s.replace("-", "\u2212")


def polyxy(polys, close=True):
    xs, ys = [], []
    for p in polys:
        pts = list(p)
        if close and len(pts) > 2:
            pts = pts + [pts[0]]
        for x, y in pts:
            xs.append(x)
            ys.append(y)
        xs.append(None)
        ys.append(None)
    return xs, ys


fig = go.Figure()
layout = {}
annotations = []

y_tickvals = [-1 + 0.25 * i for i in range(9)]
y_ticktext = [fmt(v) if abs(v * 2 - round(v * 2)) < 1e-9 else "" for v in y_tickvals]

for r in range(9):
    grp = ROW_GROUP[r]
    xr = X_RANGES[grp]
    lo, hi = min(xr), max(xr)
    n = int(round((hi - lo) / 0.5))
    x_tickvals = [lo + 0.5 * i for i in range(1, n)]
    for c in range(4):
        k = r * 4 + c + 1
        xn = "x" if k == 1 else "x%d" % k
        yn = "y" if k == 1 else "y%d" % k
        xkey = "xaxis" if k == 1 else "xaxis%d" % k
        ykey = "yaxis" if k == 1 else "yaxis%d" % k
        x0, x1 = COL_PX[c]
        t0, t1 = ROW_PX[r]
        show_x = r in LABEL_ROWS
        x_ticktext = [fmt(v) if (show_x and abs(v - round(v)) < 1e-9 and round(v) in X_LABELED[grp]) else ""
                      for v in x_tickvals]
        layout[xkey] = dict(
            domain=[x0 / W, x1 / W], range=xr, anchor=yn, automargin=False,
            showgrid=False, zeroline=False, showline=True, linewidth=2, linecolor=BLACK,
            mirror="ticks", ticks="inside", ticklen=9, tickwidth=1, tickcolor=BLACK,
            tickmode="array", tickvals=x_tickvals, ticktext=x_ticktext,
            tickfont=dict(family=SERIF, size=21, color=BLACK), fixedrange=True,
        )
        layout[ykey] = dict(
            domain=[1 - t1 / H, 1 - t0 / H], range=[-1.105, 1.105], anchor=xn, automargin=False,
            showgrid=False, zeroline=False, showline=True, linewidth=2, linecolor=BLACK,
            mirror="ticks", ticks="inside", ticklen=9, tickwidth=1, tickcolor=BLACK,
            tickmode="array", tickvals=y_tickvals,
            ticktext=y_ticktext if c == 0 else [""] * len(y_tickvals),
            tickfont=dict(family=SERIF, size=21, color=BLACK), ticklabelstandoff=3,
            fixedrange=True,
        )
        # negative (dashed gray) contours
        nx, ny = polyxy(NEG[r], close=False)
        fig.add_trace(go.Scatter(x=nx, y=ny, mode="lines", xaxis=xn, yaxis=yn,
                                 line=dict(color=GRAY, width=2, dash="6px,4px"),
                                 hoverinfo="skip", showlegend=False))
        # data contours
        dx, dy = polyxy(DATA[r])
        fig.add_trace(go.Scatter(x=dx, y=dy, mode="lines", xaxis=xn, yaxis=yn,
                                 line=dict(color=BLACK, width=2),
                                 hoverinfo="skip", showlegend=False))
        if DOTS[r]:
            fig.add_trace(go.Scatter(x=[p[0] for p in DOTS[r]], y=[p[1] for p in DOTS[r]],
                                     mode="markers", xaxis=xn, yaxis=yn,
                                     marker=dict(color=BLACK, size=4),
                                     hoverinfo="skip", showlegend=False))
        model = [None, GREEN, R1, R2][c]
        if model is not None:
            mx, my = polyxy(model[r])
            fig.add_trace(go.Scatter(x=mx, y=my, mode="lines", xaxis=xn, yaxis=yn,
                                     line=dict(color=GREEN_C if c == 1 else RED_C, width=2,
                                               shape="spline", smoothing=0.7),
                                     hoverinfo="skip", showlegend=False))
        if c == 0:
            ch = CHANNELS[r]
            annotations.append(dict(
                text=ch, xref="%s domain" % xn, yref="%s domain" % yn,
                x=0.063 if len(ch) == 3 else 0.045, y=0.135, xanchor="left", yanchor="middle",
                showarrow=False, font=dict(family=SANS, size=21, color=BLACK)))

for (r, ax_x, tip_y, tail_y) in ARROWS:
    k = r * 4 + 3
    annotations.append(dict(
        x=ax_x, y=tip_y, ax=ax_x, ay=tail_y, xref="x%d" % k, yref="y%d" % k,
        axref="x%d" % k, ayref="y%d" % k, showarrow=True, arrowhead=2,
        arrowsize=1.5, arrowwidth=2, arrowcolor=BLACK, text=""))

for c, title in enumerate(COLUMN_TITLES):
    x0, x1 = COL_PX[c]
    annotations.append(dict(
        text=title, xref="paper", yref="paper", x=(x0 + x1) / 2 / W, y=1 - 12 / H,
        xanchor="center", yanchor="middle", showarrow=False,
        font=dict(family=SANS, size=21, color=BLACK)))

annotations.append(dict(
    text=X_TITLE, xref="paper", yref="paper", x=609 / W, y=1 - 1575 / H,
    xanchor="center", yanchor="middle", showarrow=False,
    font=dict(family=SANS, size=21, color=BLACK)))
annotations.append(dict(
    text=Y_TITLE, xref="paper", yref="paper", x=15 / W, y=1 - 806 / H,
    xanchor="center", yanchor="middle", showarrow=False, textangle=-90,
    font=dict(family=SANS, size=21, color=BLACK)))

fig.update_layout(
    width=W, height=H, margin=dict(l=0, r=0, t=0, b=0, autoexpand=False),
    paper_bgcolor="white", plot_bgcolor="white", showlegend=False,
    hovermode=False, annotations=annotations, **layout)

fig.write_html(
    "out.html",
    config={"responsive": False, "displayModeBar": False},
    post_script="document.body.style.margin='0px';document.body.style.padding='0px';"
                "document.body.style.overflow='hidden';",
)
